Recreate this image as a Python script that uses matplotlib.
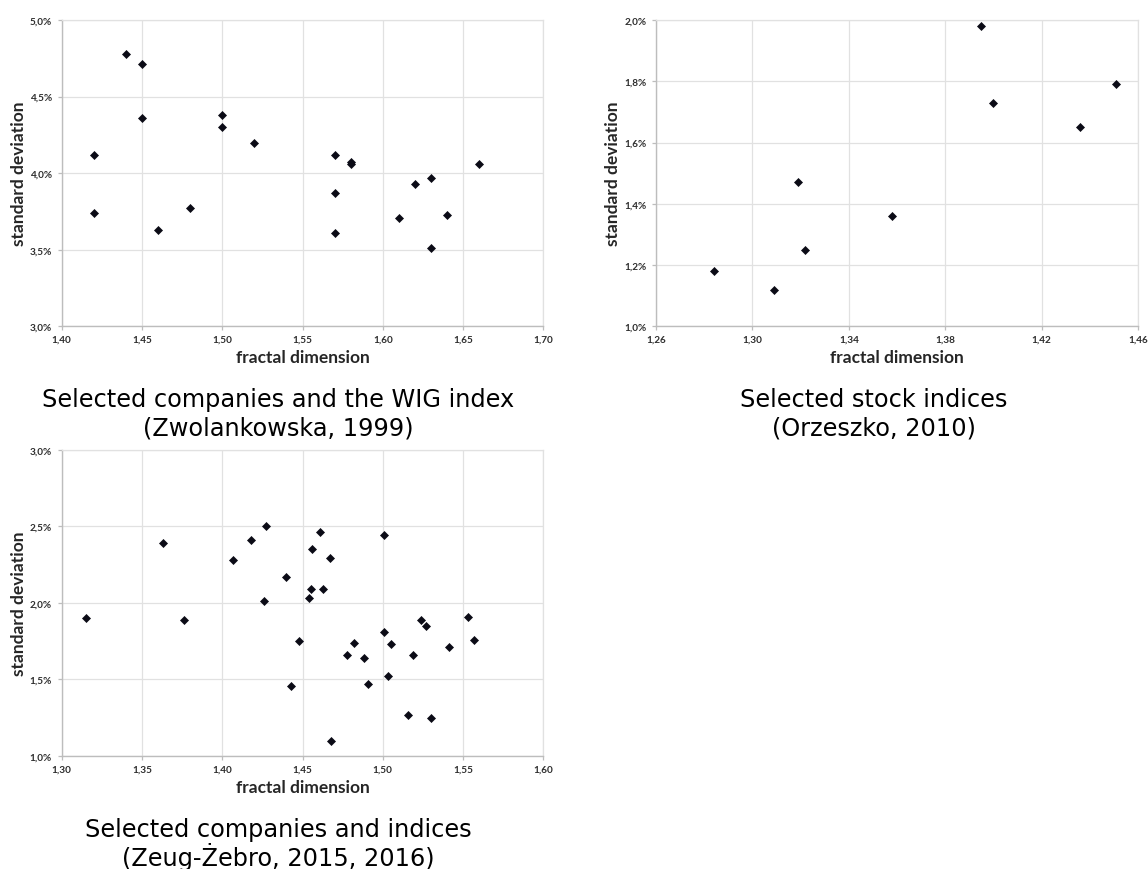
import matplotlib
matplotlib.use("Agg")
import matplotlib.pyplot as plt
from matplotlib.ticker import FuncFormatter
import numpy as np

# Selected companies and the WIG index (Zwolankowska, 1999)
wig_fd = [1.42, 1.42, 1.44, 1.45, 1.45, 1.46, 1.48, 1.50, 1.50, 1.52,
          1.57, 1.57, 1.57, 1.58, 1.58, 1.61, 1.62, 1.63, 1.63, 1.64, 1.66]
wig_sd = [4.12, 3.74, 4.78, 4.71, 4.36, 3.63, 3.77, 4.38, 4.30, 4.20,
          4.12, 3.87, 3.61, 4.06, 4.07, 3.71, 3.93, 3.97, 3.51, 3.73, 4.06]

# Selected stock indices (Orzeszko, 2010)
idx_fd = [1.284, 1.309, 1.319, 1.322, 1.358, 1.395, 1.400, 1.436, 1.451]
idx_sd = [1.18, 1.12, 1.47, 1.25, 1.36, 1.98, 1.73, 1.65, 1.79]

# Selected companies and indices (Zeug-Żebro, 2015, 2016)
zz_fd = [1.315, 1.363, 1.376, 1.407, 1.418, 1.426, 1.427, 1.440, 1.443, 1.448,
         1.454, 1.455, 1.456, 1.461, 1.463, 1.467, 1.468, 1.478, 1.482, 1.488,
         1.491, 1.501, 1.501, 1.503, 1.505, 1.516, 1.519, 1.524, 1.527, 1.530,
         1.541, 1.553, 1.557]
zz_sd = [1.90, 2.39, 1.89, 2.28, 2.41, 2.01, 2.50, 2.17, 1.46, 1.75,
         2.03, 2.09, 2.35, 2.46, 2.09, 2.29, 1.10, 1.66, 1.74, 1.64,
         1.47, 1.81, 2.44, 1.52, 1.73, 1.27, 1.66, 1.89, 1.85, 1.25,
         1.71, 1.91, 1.76]

captions = [
    ("Selected companies and the WIG index", "(Zwolankowska, 1999)"),
    ("Selected stock indices", "(Orzeszko, 2010)"),
    ("Selected companies and indices", "(Zeug-Żebro, 2015, 2016)"),
]

W, H = 1148, 870
fig = plt.figure(figsize=(W / 100, H / 100), dpi=100)
fig.patch.set_facecolor("white")

TICK_FONT = dict(family="Lato", weight="bold", size=7.2)
LABEL_FONT = dict(family="Lato", weight="bold", size=12.5)
SPINE_C = "#bdbdbd"
GRID_C = "#e1e1e1"


def px_axes(left, top, right, bottom):
    return fig.add_axes([left / W, 1 - bottom / H, (right - left) / W, (bottom - top) / H])


def comma(fmt):
    return FuncFormatter(lambda v, _: (fmt % v).replace(".", ","))


def panel(ax, x, y, xlim, xstep, ylim, ystep, cap, cap_x, cap_base):
    ax.plot(x, y, linestyle="none", marker="D", markersize=3.8,
            color="#0b0b16", markeredgewidth=0.5)
    ax.set_xticks(np.arange(xlim[0], xlim[1] + xstep / 2, xstep))
    ax.set_yticks(np.arange(ylim[0], ylim[1] + ystep / 2, ystep))
    ax.set_xlim(*xlim)
    ax.set_ylim(*ylim)
    ax.xaxis.set_major_formatter(comma("%.2f"))
    ax.yaxis.set_major_formatter(comma("%.1f%%"))
    ax.grid(True, color=GRID_C, linewidth=0.9)
    ax.set_axisbelow(True)
    for s in ("left", "bottom"):
        ax.spines[s].set_color(SPINE_C)
        ax.spines[s].set_linewidth(1.0)
    for s in ("top", "right"):
        ax.spines[s].set_color(GRID_C)
        ax.spines[s].set_linewidth(0.9)
    ax.tick_params(axis="both", direction="out", length=3, width=0.9,
                   color=SPINE_C, labelcolor="#2e2e2e")
    ax.tick_params(axis="x", pad=3)
    ax.tick_params(axis="y", pad=4)
    for lab in ax.get_xticklabels() + ax.get_yticklabels():
        lab.set_fontfamily(TICK_FONT["family"])
        lab.set_fontweight(TICK_FONT["weight"])
        lab.set_fontsize(TICK_FONT["size"])
    ax.set_xlabel("fractal dimension", color="#262626", labelpad=4, **LABEL_FONT)
    ax.set_ylabel("standard deviation", color="#262626", labelpad=2, **LABEL_FONT)
    fig.text(cap_x / W, 1 - cap_base / H, cap[0], ha="center", va="baseline",
             family="DejaVu Sans", size=17.3, color="black")
    fig.text(cap_x / W, 1 - (cap_base + 29) / H, cap[1], ha="center", va="baseline",
             family="DejaVu Sans", size=17.3, color="black")


ax1 = px_axes(61.7, 21, 543.3, 327.3)
panel(ax1, wig_fd, wig_sd, (1.40, 1.70), 0.05, (3.0, 5.0), 0.5,
      captions[0], 278, 407)

ax2 = px_axes(656, 21, 1138, 327.3)
panel(ax2, idx_fd, idx_sd, (1.26, 1.46), 0.04, (1.0, 2.0), 0.2,
      captions[1], 874, 407)

ax3 = px_axes(61.7, 450.7, 543.3, 757)
panel(ax3, zz_fd, zz_sd, (1.30, 1.60), 0.05, (1.0, 3.0), 0.5,
      captions[2], 278, 837)

fig.savefig("out.png", dpi=100, facecolor="white")
